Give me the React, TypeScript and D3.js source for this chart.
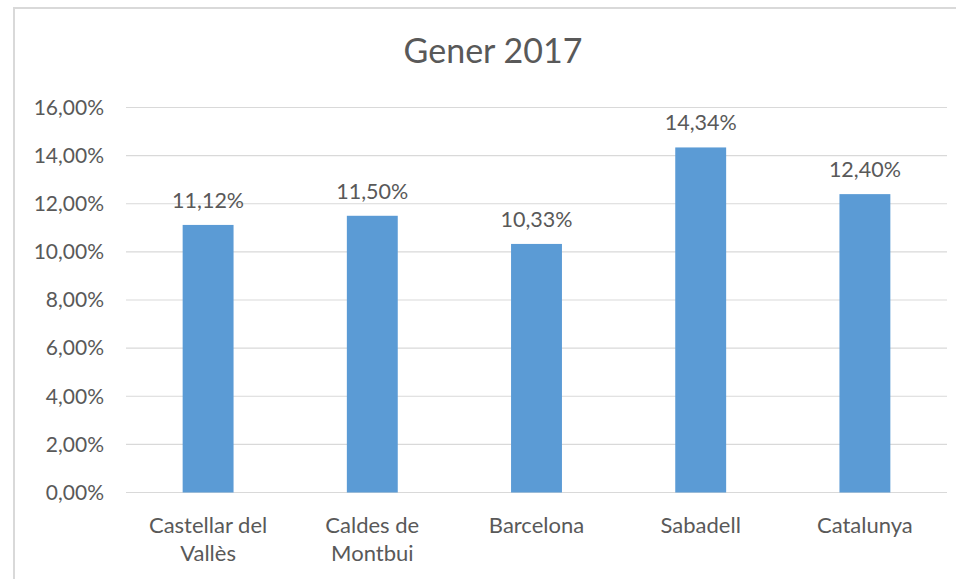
import React from 'react'
import * as d3 from 'd3'

const CATEGORIES = ['Castellar del Vallès', 'Caldes de Montbui', 'Barcelona', 'Sabadell', 'Catalunya']
const CATEGORY_LINES = [['Castellar del', 'Vallès'], ['Caldes de', 'Montbui'], ['Barcelona'], ['Sabadell'], ['Catalunya']]
const VALUES = [11.12, 11.5, 10.33, 14.34, 12.4]
const Y_TICKS = [0, 2, 4, 6, 8, 10, 12, 14, 16]

const W = 956
const H = 579
const TEXT = '#595959'
const GRID = '#d9d9d9'
const BAR = '#5b9bd5'
const FONT = 'Lato, Calibri, sans-serif'

const fmt = (v: number) => v.toFixed(2).replace('.', ',') + '%'

export default function App() {
  const margin = { left: 126, right: 9, top: 107.5, bottom: 86.5 }
  const x = d3.scaleBand<string>()
    .domain(CATEGORIES)
    .range([margin.left, W - margin.right])
    .paddingInner(0.69)
    .paddingOuter(0.345)
  const y = d3.scaleLinear().domain([0, 16]).range([H - margin.bottom, margin.top])

  return (
    <svg width={W} height={H} style={{ position: 'absolute', left: 0, top: 0, background: '#fff' }}>
      <rect x={14} y={8} width={W} height={H} fill="#fff" stroke={GRID} strokeWidth={2} />

      <text x={493} y={63} textAnchor="middle" fill={TEXT} fontFamily={FONT} fontSize={34}>
        Gener 2017
      </text>

      {/* gridlines + y labels */}
      {Y_TICKS.map(t => (
        <g key={t}>
          <line x1={margin.left} x2={W - margin.right} y1={y(t)} y2={y(t)} stroke={GRID} strokeWidth={1.2} />
          <text x={104} y={y(t)} dy="0.35em" textAnchor="end" fill={TEXT} fontFamily={FONT} fontSize={21}>
            {fmt(t)}
          </text>
        </g>
      ))}

      {/* bars */}
      {CATEGORIES.map((c, i) => (
        <g key={c}>
          <rect x={x(c)} y={y(VALUES[i])} width={x.bandwidth()} height={y(0) - y(VALUES[i])} fill={BAR} />
          <text x={x(c)! + x.bandwidth() / 2} y={y(VALUES[i]) - 17} textAnchor="middle"
            fill={TEXT} fontFamily={FONT} fontSize={21.5}>
            {fmt(VALUES[i])}
          </text>
        </g>
      ))}

      {/* category labels */}
      {CATEGORIES.map((c, i) => (
        <text key={c} x={x(c)! + x.bandwidth() / 2} y={533} textAnchor="middle"
          fill={TEXT} fontFamily={FONT} fontSize={22}>
          {CATEGORY_LINES[i].map((ln, j) => (
            <tspan key={j} x={x(c)! + x.bandwidth() / 2} dy={j === 0 ? 0 : 28}>{ln}</tspan>
          ))}
        </text>
      ))}
    </svg>
  )
}
